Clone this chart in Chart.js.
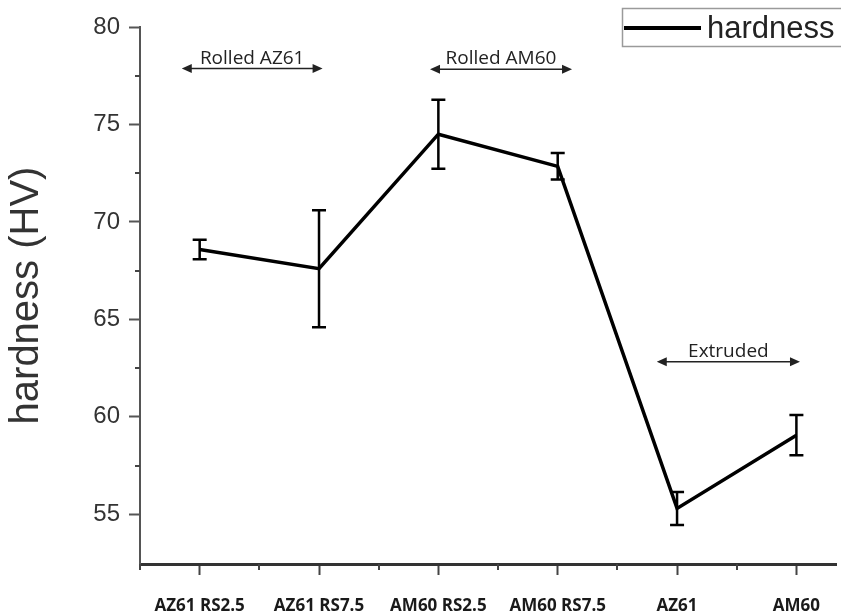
<!DOCTYPE html>
<html>
<head>
<meta charset="utf-8">
<script src="https://cdn.jsdelivr.net/npm/chart.js@4.4.0/dist/chart.umd.min.js"></script>
<style>
    html, body { margin: 0; padding: 0; background: #fff; overflow: hidden; }
    #graphe-container { width: 841px; height: 614px; }
</style>
</head>
<body>
<div id="graphe-container"><canvas id="graphHardness"></canvas></div>
<script>
var categories = ['AZ61 RS2.5', 'AZ61 RS7.5', 'AM60 RS2.5', 'AM60 RS7.5', 'AZ61', 'AM60'];
var hardness = [68.58, 67.6, 74.5, 72.85, 55.3, 59.06];
var hardnessErr = [0.5, 3.0, 1.77, 0.68, 0.85, 1.03];
var yTicks = [55, 60, 65, 70, 75, 80];

// groups drawn as double arrows above the curve (x in category units, y in HV)
var groupLabels = ['Rolled AZ61', 'Rolled AM60', 'Extruded'];
var groupFrom = [-0.15, 1.93, 3.83];
var groupTo = [1.03, 3.12, 5.03];
var groupLevel = [77.87, 77.83, 62.82];

var fontArial = '"Liberation Sans", Arial, sans-serif';
var fontCalibri = '"Open Sans", "Noto Sans", sans-serif';

Chart.defaults.font.family = fontArial;

var points = [];
for (let i = 0; i < categories.length; i++) {
    points.push({x: i, y: hardness[i]});
}

var minorTicks = {
    id: 'minorTicks',
    afterDraw: function (chart) {
        var ctx = chart.ctx;
        var x = chart.scales.x;
        var y = chart.scales.y;
        ctx.save();
        ctx.strokeStyle = '#444';
        ctx.lineWidth = 2;
        ctx.beginPath();
        for (var v = -0.5; v <= x.max; v += 1) {
            var px = Math.round(x.getPixelForValue(v));
            ctx.moveTo(px, x.top);
            ctx.lineTo(px, x.top + 6);
        }
        for (var w = 57.5; w < y.max; w += 5) {
            var py = Math.round(y.getPixelForValue(w));
            ctx.moveTo(y.right, py);
            ctx.lineTo(y.right - 5, py);
        }
        ctx.stroke();
        ctx.restore();
    }
};

var errorBars = {
    id: 'errorBars',
    afterDatasetsDraw: function (chart) {
        var ctx = chart.ctx;
        var x = chart.scales.x;
        var y = chart.scales.y;
        ctx.save();
        ctx.strokeStyle = '#000';
        ctx.lineWidth = 2.5;
        for (let i = 0; i < hardness.length; i++) {
            var px = x.getPixelForValue(i);
            var top = y.getPixelForValue(hardness[i] + hardnessErr[i]);
            var bot = y.getPixelForValue(hardness[i] - hardnessErr[i]);
            ctx.beginPath();
            ctx.moveTo(px, top);
            ctx.lineTo(px, bot);
            ctx.moveTo(px - 7, top);
            ctx.lineTo(px + 7, top);
            ctx.moveTo(px - 7, bot);
            ctx.lineTo(px + 7, bot);
            ctx.stroke();
        }
        ctx.restore();
    }
};

var groupArrows = {
    id: 'groupArrows',
    afterDraw: function (chart) {
        var ctx = chart.ctx;
        var x = chart.scales.x;
        var y = chart.scales.y;
        ctx.save();
        ctx.strokeStyle = '#222';
        ctx.fillStyle = '#222';
        ctx.lineWidth = 1.5;
        ctx.font = '19px ' + fontCalibri;
        ctx.textAlign = 'center';
        ctx.textBaseline = 'alphabetic';
        for (let i = 0; i < groupLabels.length; i++) {
            var x1 = x.getPixelForValue(groupFrom[i]);
            var x2 = x.getPixelForValue(groupTo[i]);
            var py = y.getPixelForValue(groupLevel[i]);
            ctx.beginPath();
            ctx.moveTo(x1 + 6, py);
            ctx.lineTo(x2 - 6, py);
            ctx.stroke();
            ctx.beginPath();
            ctx.moveTo(x1, py);
            ctx.lineTo(x1 + 10, py - 4.5);
            ctx.lineTo(x1 + 10, py + 4.5);
            ctx.closePath();
            ctx.moveTo(x2, py);
            ctx.lineTo(x2 - 10, py - 4.5);
            ctx.lineTo(x2 - 10, py + 4.5);
            ctx.closePath();
            ctx.fill();
            ctx.fillText(groupLabels[i], (x1 + x2) / 2, py - 5);
        }
        ctx.restore();
    }
};

var legendBox = {
    id: 'legendBox',
    afterDraw: function (chart) {
        var ds = chart.data.datasets[0];
        var ctx = chart.ctx;
        ctx.save();
        ctx.strokeStyle = '#9a9a9a';
        ctx.lineWidth = 1.5;
        ctx.strokeRect(622.5, 8.5, 240, 38);
        ctx.strokeStyle = ds.borderColor;
        ctx.lineWidth = 4;
        ctx.beginPath();
        ctx.moveTo(624, 28);
        ctx.lineTo(701, 28);
        ctx.stroke();
        ctx.fillStyle = '#222';
        ctx.font = '31px ' + fontArial;
        ctx.textBaseline = 'alphabetic';
        ctx.fillText(ds.label, 707, 38);
        ctx.restore();
    }
};

new Chart(document.getElementById('graphHardness').getContext('2d'), {
    type: 'line',
    data: {
        datasets: [{
            label: 'hardness',
            data: points,
            borderColor: '#000',
            borderWidth: 3.5,
            pointRadius: 0,
            fill: false,
            tension: 0
        }]
    },
    options: {
        responsive: true,
        maintainAspectRatio: false,
        animation: false,
        layout: {padding: {top: 27, right: 0, bottom: 0, left: 0}},
        plugins: {
            legend: {display: false},
            tooltip: {enabled: false}
        },
        scales: {
            x: {
                type: 'linear',
                min: -0.5,
                max: 5.34,
                afterBuildTicks: function (scale) {
                    scale.ticks = categories.map(function (c, i) { return {value: i}; });
                },
                afterFit: function (scale) { scale.height = 50; },
                ticks: {
                    callback: function (v) { return categories[v]; },
                    font: {family: fontCalibri, size: 17, weight: 'bold'},
                    color: '#1a1a1a',
                    padding: 21,
                    maxRotation: 0,
                    autoSkip: false
                },
                grid: {drawOnChartArea: false, tickLength: 11, tickWidth: 2, tickColor: '#444'},
                border: {color: '#333', width: 3}
            },
            y: {
                min: 52.45,
                max: 80,
                afterBuildTicks: function (scale) {
                    scale.ticks = yTicks.map(function (v) { return {value: v}; });
                },
                afterFit: function (scale) { scale.width = 140; },
                ticks: {
                    font: {family: fontArial, size: 24},
                    color: '#333',
                    padding: 9
                },
                grid: {drawOnChartArea: false, tickLength: 11, tickWidth: 2, tickColor: '#555'},
                border: {color: '#555', width: 2},
                title: {
                    display: true,
                    text: 'hardness (HV)',
                    font: {family: fontArial, size: 40},
                    color: '#333',
                    padding: {top: 3, bottom: 0}
                }
            }
        }
    },
    plugins: [minorTicks, errorBars, groupArrows, legendBox]
});
</script>
</body>
</html>
